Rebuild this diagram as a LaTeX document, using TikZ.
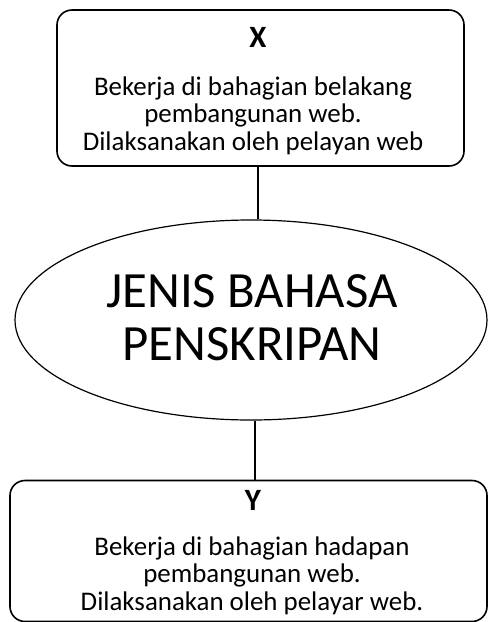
\documentclass[tikz,border=0pt]{standalone}
\usepackage{fontspec}
\setmainfont{Carlito}
\usepackage{tikz}
\usetikzlibrary{shapes, calc}
\tikzstyle{box}=[draw, line width=1.6pt, rounded corners=15pt]
\tikzstyle{title}=[font=\bfseries\fontsize{31}{32}\selectfont, inner sep=0pt]
\tikzstyle{body}=[font=\fontsize{26.9}{27.5}\selectfont, align=center, inner sep=0pt]
\begin{document}
\begin{tikzpicture}[x=1pt, y=-1pt]
\useasboundingbox (0,0) rectangle (488,622);
\clip (0,0) rectangle (488,622);
% top box
\node[box, minimum width=407pt, minimum height=156pt] (xbox) at (260.5,88) {};
\node[title, anchor=base] (xtitle) at (258,47) {X};
\node[body, anchor=base] (xtext) at (253,150) {Bekerja di bahagian belakang\\pembangunan web.\\Dilaksanakan oleh pelayan web};
% centre
\node[draw, ellipse, line width=1.2pt, minimum width=472pt, minimum height=200pt, inner sep=0pt] (lang) at (251,320) {};
\node[body, font=\fontsize{50.8}{53}\selectfont, anchor=base] (langtext) at (252,360) {JENIS BAHASA\\PENSKRIPAN};
% bottom box
\node[box, minimum width=477pt, minimum height=141pt] (ybox) at (248.5,551) {};
\node[title, anchor=base] (ytitle) at (253,510) {Y};
\node[body, anchor=base] (ytext) at (252,610) {Bekerja di bahagian hadapan\\pembangunan web.\\Dilaksanakan oleh pelayar web.};
% connectors
\draw[line width=1.2pt] ([xshift=-2.5pt]xbox.south) -- ([xshift=-2.5pt]xbox.south |- lang.north);
\draw[line width=1.2pt] ([xshift=4pt]lang.south) -- ([xshift=4pt]lang.south |- ybox.north);
\end{tikzpicture}
\end{document}
